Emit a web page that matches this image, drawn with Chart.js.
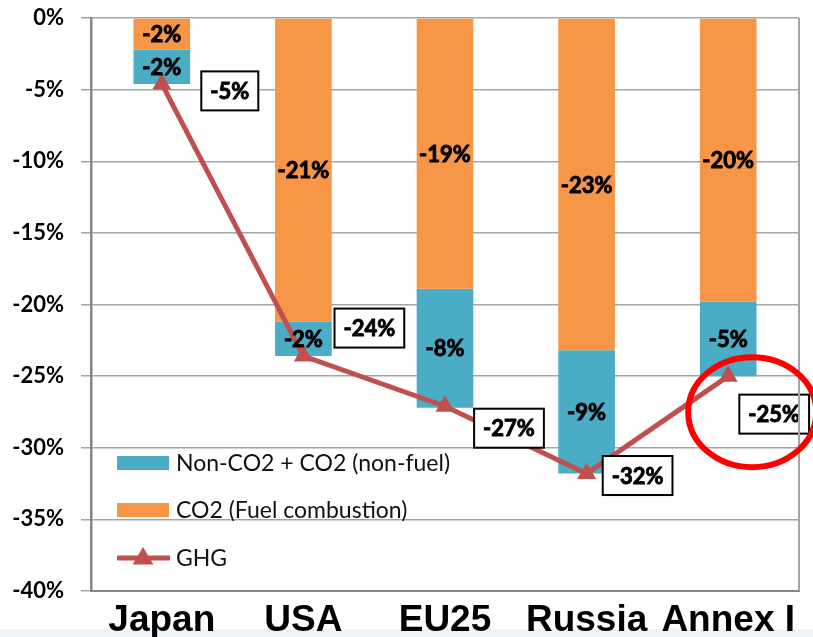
<!DOCTYPE html>
<html><head><meta charset="utf-8">
<script src="https://cdn.jsdelivr.net/npm/chart.js@4.4.1/dist/chart.umd.min.js"></script>
<style>
html,body{margin:0;padding:0;background:#fff;overflow:hidden}
#wrap{position:relative;width:813px;height:637px}
#band{position:absolute;left:0;right:0;bottom:0;height:8px;background:#eef5fa}
canvas{position:absolute;left:0;top:0}
</style></head>
<body><div id="wrap"><div id="band"></div><canvas id="c" width="813" height="637"></canvas></div>
<script>
// ---- data ----
const categories = ['Japan', 'USA', 'EU25', 'Russia', 'Annex I'];
const co2Fuel = [-2.2, -21.2, -18.9, -23.2, -19.8];
const nonFuel = [-2.4, -2.4, -8.3, -8.6, -5.2];
const ghg = [-4.6, -23.6, -27.1, -31.8, -25.0];
const seriesNames = ['CO2 (Fuel combustion)', 'Non-CO2 + CO2 (non-fuel)', 'GHG'];
const yMin = -40, yMax = 0, yStep = 5;

// ---- styling ----
const COL_ORANGE = '#f79646', COL_BLUE = '#4bacc6', COL_RED = '#c0504d';
const ghgLabelOffsets = [[68, 7], [66, -28], [64, 22], [51, 2], [46, 38]];
const FONT = 'Lato, "Open Sans", sans-serif';
const BOLD = 'bold';
const fmt = v => Math.round(v) + '%';

function heavyText(ctx, t, x, y) {
  ctx.lineWidth = 0.9;
  ctx.strokeStyle = '#000';
  ctx.strokeText(t, x, y);
  ctx.fillText(t, x, y);
}

const labelPlugin = {
  id: 'labels',
  afterDatasetsDraw(chart) {
    const ctx = chart.ctx;
    ctx.save();
    ctx.font = BOLD + ' 22px ' + FONT;
    ctx.textAlign = 'center';
    ctx.textBaseline = 'middle';
    ctx.fillStyle = '#000';
    [0, 1].forEach(di => {
      const meta = chart.getDatasetMeta(di);
      meta.data.forEach((el, i) => {
        const c = el.getCenterPoint();
        heavyText(ctx, fmt(chart.data.datasets[di].data[i]), c.x, c.y + 1);
      });
    });
    // GHG boxes
    const lm = chart.getDatasetMeta(2);
    lm.data.forEach((el, i) => {
      const t = fmt(chart.data.datasets[2].data[i]);
      const w = ctx.measureText(t).width + 18, h = 39;
      const cx = el.x + ghgLabelOffsets[i][0], cy = el.y + ghgLabelOffsets[i][1];
      ctx.fillStyle = '#fff';
      ctx.fillRect(cx - w / 2, cy - h / 2, w, h);
      ctx.strokeStyle = '#000';
      ctx.lineWidth = 2;
      ctx.strokeRect(cx - w / 2, cy - h / 2, w, h);
      ctx.fillStyle = '#000';
      heavyText(ctx, t, cx, cy + 1);
    });
    ctx.restore();
  },
  afterDraw(chart) {
    const ctx = chart.ctx, a = chart.chartArea;
    ctx.save();
    // right frame
    ctx.strokeStyle = '#a5a5a5';
    ctx.lineWidth = 2;
    ctx.beginPath(); ctx.moveTo(a.right, a.top); ctx.lineTo(a.right, a.bottom); ctx.stroke();
    // legend
    const ds = chart.data.datasets;
    const lx = a.left + 26;
    const items = [
      { d: ds[1], y: a.top + 445, kind: 'box' },
      { d: ds[0], y: a.top + 492, kind: 'box' },
      { d: ds[2], y: a.top + 540, kind: 'line' }
    ];
    ctx.font = '23px ' + FONT;
    ctx.textBaseline = 'middle';
    ctx.textAlign = 'left';
    items.forEach(it => {
      if (it.kind === 'box') {
        ctx.fillStyle = it.d.backgroundColor;
        ctx.fillRect(lx, it.y - 7, 52, 14);
      } else {
        ctx.strokeStyle = it.d.borderColor;
        ctx.lineWidth = 5;
        ctx.beginPath(); ctx.moveTo(lx, it.y); ctx.lineTo(lx + 53, it.y); ctx.stroke();
        ctx.fillStyle = it.d.borderColor;
        const tx = lx + 26, r = 11;
        ctx.beginPath();
        ctx.moveTo(tx, it.y - r);
        ctx.lineTo(tx + r * 0.95, it.y + r * 0.6);
        ctx.lineTo(tx - r * 0.95, it.y + r * 0.6);
        ctx.closePath(); ctx.fill();
      }
      ctx.fillStyle = '#111';
      ctx.fillText(it.d.label, lx + 59, it.y + 1);
    });
    // red highlight ellipse around last GHG point
    const lm = chart.getDatasetMeta(2);
    const p = lm.data[lm.data.length - 1];
    ctx.strokeStyle = '#ff0000';
    ctx.lineWidth = 6;
    ctx.beginPath();
    ctx.ellipse(p.x + 24, p.y + 36, 64, 55, 0, 0, Math.PI * 2);
    ctx.stroke();
    ctx.restore();
  }
};

new Chart(document.getElementById('c'), {
  data: {
    labels: categories,
    datasets: [
      { type: 'bar', label: seriesNames[0], data: co2Fuel, backgroundColor: COL_ORANGE, stack: 'bars', order: 2,
        categoryPercentage: 0.8, barPercentage: 0.5 },
      { type: 'bar', label: seriesNames[1], data: nonFuel, backgroundColor: COL_BLUE, stack: 'bars', order: 2,
        categoryPercentage: 0.8, barPercentage: 0.5 },
      { type: 'line', label: seriesNames[2], data: ghg, stack: 'ghg', order: 0,
        borderColor: COL_RED, backgroundColor: COL_RED, borderWidth: 5,
        pointStyle: 'triangle', pointRadius: 11, pointBackgroundColor: COL_RED, pointBorderWidth: 0,
        pointBorderColor: COL_RED, tension: 0, fill: false }
    ]
  },
  options: {
    responsive: false,
    animation: false,
    devicePixelRatio: 1,
    layout: { padding: { top: 18, right: 14, left: 0, bottom: 0 } },
    plugins: { legend: { display: false }, tooltip: { enabled: false } },
    scales: {
      x: {
        stacked: true,
        offset: true,
        grid: { display: false, drawTicks: false, tickLength: 0 },
        border: { display: true, color: '#868686', width: 2 },
        ticks: { color: '#000', padding: 8, font: { family: '"Liberation Sans", Arial, sans-serif', weight: 'bold', size: 37 } },
        afterFit(s) { s.height = 46; s.paddingLeft = 0; s.paddingRight = 0; }
      },
      y: {
        stacked: true,
        min: yMin, max: yMax,
        ticks: { stepSize: yStep, color: '#000', padding: 17,
          font: { family: FONT, weight: BOLD, size: 22 },
          callback: v => v + '%' },
        grid: { color: '#a5a5a5', lineWidth: 1.5, tickLength: 10, drawTicks: true },
        border: { display: true, color: '#868686', width: 2.5 },
        afterFit(s) { s.width = 91; s.paddingTop = 0; s.paddingBottom = 0; }
      }
    }
  },
  plugins: [labelPlugin]
});
</script>
</body></html>
